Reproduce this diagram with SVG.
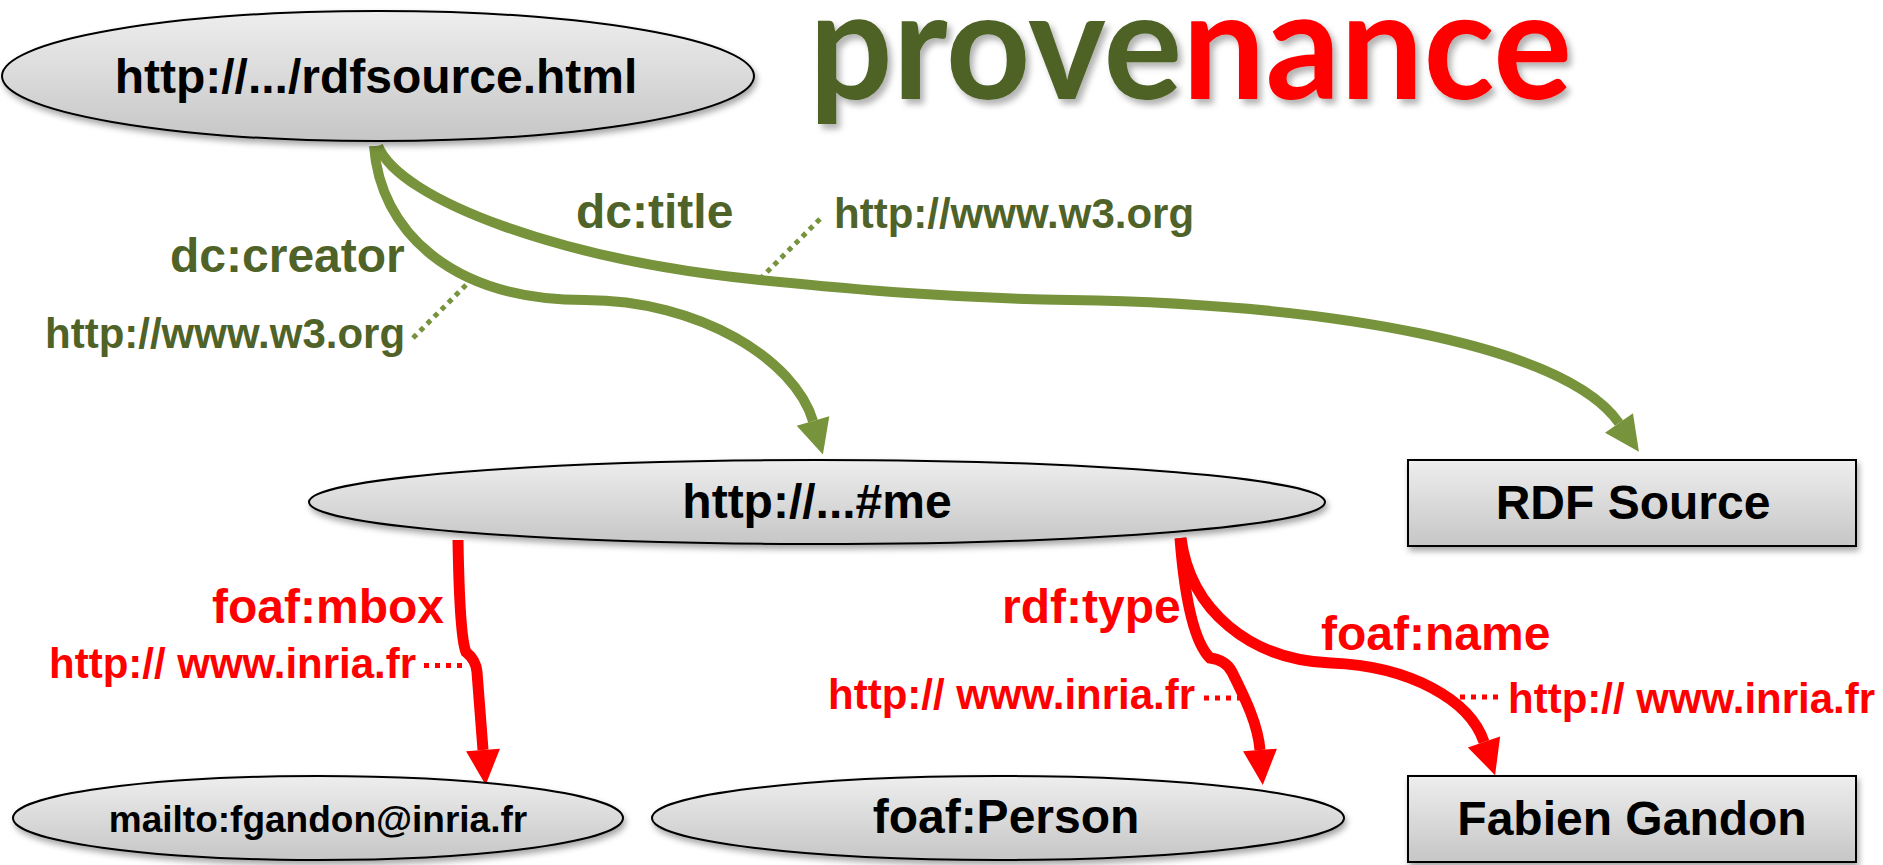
<svg xmlns="http://www.w3.org/2000/svg" width="1883" height="865" viewBox="0 0 1883 865">
<defs>
<linearGradient id="nodeFill" x1="0" y1="0" x2="0" y2="1">
<stop offset="0" stop-color="#eeeeee"/>
<stop offset="1" stop-color="#c6c6c6"/>
</linearGradient>
<filter id="nodeShadow" x="-10%" y="-20%" width="120%" height="150%">
<feDropShadow dx="2" dy="4" stdDeviation="3" flood-color="#000" flood-opacity="0.35"/>
</filter>
<filter id="titleShadow" x="-5%" y="-10%" width="110%" height="130%">
<feDropShadow dx="4" dy="5" stdDeviation="3" flood-color="#000" flood-opacity="0.3"/>
</filter>
<marker id="arrowGreen" markerUnits="userSpaceOnUse" markerWidth="40" markerHeight="40" refX="0" refY="0" orient="auto" overflow="visible">
<path d="M0,-17 L35,0 L0,17 z" fill="#77933C"/>
</marker>
<marker id="arrowRed" markerUnits="userSpaceOnUse" markerWidth="40" markerHeight="40" refX="0" refY="0" orient="auto" overflow="visible">
<path d="M0,-17 L35,0 L0,17 z" fill="#FF0000"/>
</marker>
</defs>
<style>
.node { fill: url(#nodeFill); stroke: #000; stroke-width: 2; filter: url(#nodeShadow); }
.ntext { font-family: "Liberation Sans", Arial, sans-serif; font-weight: bold; font-size: 48px; fill: #000; text-anchor: middle; }
.glabel { font-family: "Liberation Sans", Arial, sans-serif; font-weight: bold; font-size: 48px; fill: #4F6228; }
.gurl { font-family: "Liberation Sans", Arial, sans-serif; font-weight: bold; font-size: 42px; fill: #4F6228; }
.rlabel { font-family: "Liberation Sans", Arial, sans-serif; font-weight: bold; font-size: 48px; fill: #FF0000; }
.rurl { font-family: "Liberation Sans", Arial, sans-serif; font-weight: bold; font-size: 42px; fill: #FF0000; }
.gedge { fill: none; stroke: #77933C; stroke-width: 10; marker-end: url(#arrowGreen); }
.redge { fill: none; stroke: #FF0000; stroke-width: 11; marker-end: url(#arrowRed); }
.gdot { stroke: #77933C; stroke-width: 5; stroke-dasharray: 5 5; fill: none; }
.rdot { stroke: #FF0000; stroke-width: 5; stroke-dasharray: 5 6; fill: none; }
</style>
<rect width="1883" height="865" fill="#fff"/>

<g id="title" filter="url(#titleShadow)">
<text x="809" y="99" font-family="Lato, 'Open Sans', sans-serif" font-weight="bold" font-size="152" textLength="763" lengthAdjust="spacingAndGlyphs"><tspan fill="#4F6228">prove</tspan><tspan fill="#FF0000">nance</tspan></text>
</g>

<g id="connectors">
<path class="gedge" d="M374 146 C380 230 450 300 585 300 C700 300 795 360 813 421"/>
<path class="gedge" d="M378 146 C400 200 560 260 760 280 C860 290 950 298 1070 300 C1330 304 1565 345 1619 423"/>
<path class="redge" d="M458 540 C459 600 461 640 466 652 Q476 660 477 672 L483 750"/>
<path class="redge" d="M1180 538 C1184 590 1192 640 1210 658 Q1226 660 1232 672 C1246 700 1258 725 1260 750"/>
<path class="redge" d="M1181 538 C1190 610 1250 660 1331 663 C1410 666 1470 700 1484 742"/>
<line class="gdot" x1="820" y1="219" x2="759" y2="280"/>
<line class="gdot" x1="413" y1="338" x2="475" y2="276"/>
<line class="rdot" x1="424" y1="665.5" x2="468" y2="665.5"/>
<line class="rdot" x1="1204" y1="698" x2="1244" y2="698"/>
<line class="rdot" x1="1460" y1="697" x2="1498" y2="697"/>
<text class="glabel" x="576" y="228">dc:title</text>
<text class="gurl" x="834" y="228">http://www.w3.org</text>
<text class="glabel" x="170" y="272">dc:creator</text>
<text class="gurl" x="45" y="348">http://www.w3.org</text>
<text class="rlabel" x="212" y="623">foaf:mbox</text>
<text class="rurl" x="49" y="678">http:// www.inria.fr</text>
<text class="rlabel" x="1002" y="623">rdf:type</text>
<text class="rurl" x="828" y="709">http:// www.inria.fr</text>
<text class="rlabel" x="1321" y="650">foaf:name</text>
<text class="rurl" x="1508" y="713">http:// www.inria.fr</text>
</g>

<g id="node-rdfsource">
<ellipse class="node" cx="378" cy="76" rx="376" ry="65"/>
<text class="ntext" x="376" y="93">http://.../rdfsource.html</text>
</g>

<g id="node-me">
<ellipse class="node" cx="817" cy="502" rx="508" ry="42"/>
<text class="ntext" x="817" y="518">http://...#me</text>
</g>

<g id="node-rdf-source-class">
<rect class="node" x="1408" y="460" width="448" height="86"/>
<text class="ntext" x="1633" y="519">RDF Source</text>
</g>

<g id="node-mailto">
<ellipse class="node" cx="318" cy="818" rx="305" ry="42"/>
<text class="ntext" x="318" y="832" style="font-size:37px">mailto:fgandon@inria.fr</text>
</g>

<g id="node-person">
<ellipse class="node" cx="998" cy="818" rx="346" ry="42"/>
<text class="ntext" x="1006" y="833">foaf:Person</text>
</g>

<g id="node-fabien">
<rect class="node" x="1408" y="776" width="448" height="86"/>
<text class="ntext" x="1632" y="835">Fabien Gandon</text>
</g>
</svg>
